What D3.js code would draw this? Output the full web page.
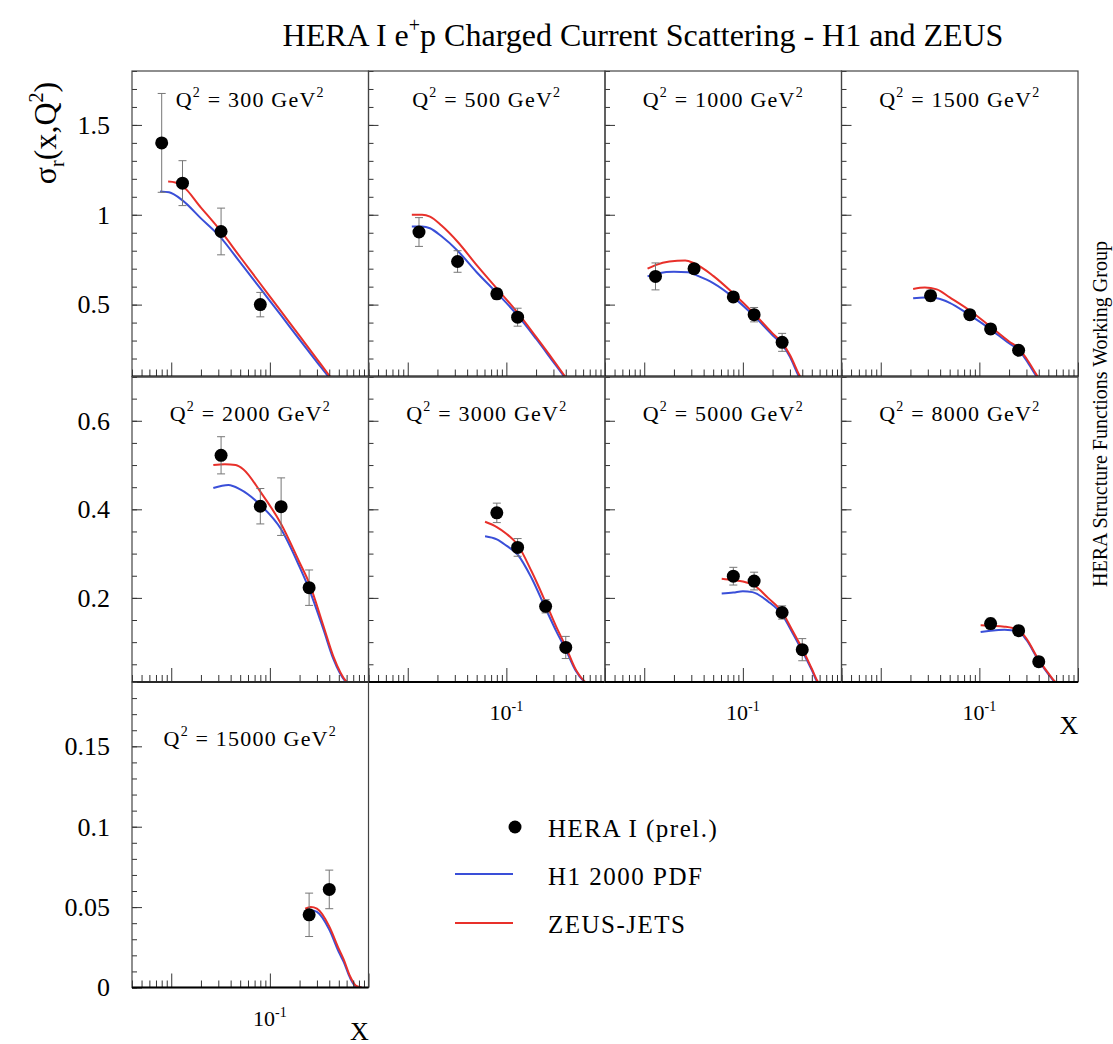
<!DOCTYPE html>
<html lang="en">
<head>
<meta charset="UTF-8">
<title>HERA I e+p Charged Current Scattering</title>
<style>
  body { margin: 0; background: #fff; }
  svg { display: block; font-family: "Liberation Serif", "DejaVu Serif", serif; }
  .frame { fill: none; stroke: #444; stroke-width: 1.2; }
  .base { stroke: #000; stroke-width: 2; }
  .tick line { stroke: #333; stroke-width: 1; }
  .tick text { fill: #000; }
  .err { stroke: #777; stroke-width: 1; }
  .h1 { fill: none; stroke: #3a4fd8; stroke-width: 2; }
  .zeus { fill: none; stroke: #e8302a; stroke-width: 2; }
</style>
</head>
<body>
<div id="chart"></div>
<script src="https://d3js.org/d3.v7.min.js"></script>
<script>
// Q^2 bins, one panel each (GeV^2)
const q2Bins = [300, 500, 1000, 1500, 2000, 3000, 5000, 8000, 15000];

// HERA I (prel.) points: x, sigma_r, error
const heraX = [
  [0.008, 0.013, 0.032, 0.08],
  [0.013, 0.032, 0.08, 0.13],
  [0.013, 0.032, 0.08, 0.13, 0.25],
  [0.032, 0.08, 0.13, 0.25],
  [0.032, 0.08, 0.13, 0.25],
  [0.08, 0.13, 0.25, 0.4],
  [0.08, 0.13, 0.25, 0.4],
  [0.13, 0.25, 0.4],
  [0.25, 0.4]
];
const heraSigma = [
  [1.40, 1.176, 0.907, 0.50],
  [0.904, 0.74, 0.56, 0.43],
  [0.657, 0.70, 0.543, 0.444, 0.29],
  [0.55, 0.444, 0.365, 0.246],
  [0.522, 0.407, 0.406, 0.223],
  [0.392, 0.314, 0.181, 0.088],
  [0.249, 0.238, 0.167, 0.083],
  [0.142, 0.126, 0.056],
  [0.0452, 0.061]
];
const heraErr = [
  [0.275, 0.125, 0.13, 0.068],
  [0.08, 0.06, 0.03, 0.05],
  [0.075, 0.02, 0.02, 0.04, 0.05],
  [0.03, 0.02, 0.02, 0.02],
  [0.042, 0.04, 0.065, 0.04],
  [0.022, 0.02, 0.015, 0.025],
  [0.02, 0.02, 0.015, 0.025],
  [0.012, 0.01, 0.01],
  [0.0135, 0.012]
];

// H1 2000 PDF curves, [x, sigma_r]
const h1Curves = [
  [[0.0077,1.13],[0.0095,1.125],[0.013,1.08],[0.02,0.98],[0.031,0.88],[0.05,0.735],[0.08,0.59],[0.13,0.44],[0.2,0.305],[0.3,0.18],[0.39,0.1],[0.5,0.02]],
  [[0.011,0.935],[0.014,0.935],[0.0168,0.925],[0.022,0.88],[0.032,0.80],[0.05,0.68],[0.08,0.565],[0.13,0.44],[0.2,0.31],[0.3,0.18],[0.385,0.1],[0.5,0.015]],
  [[0.0108,0.657],[0.014,0.675],[0.02,0.683],[0.028,0.68],[0.035,0.66],[0.05,0.62],[0.079,0.543],[0.128,0.44],[0.2,0.33],[0.248,0.28],[0.3,0.21],[0.37,0.1],[0.5,0.005]],
  [[0.0213,0.535],[0.028,0.54],[0.037,0.535],[0.05,0.51],[0.0785,0.444],[0.128,0.365],[0.2,0.285],[0.248,0.25],[0.3,0.19],[0.38,0.1],[0.5,0.01]],
  [[0.0267,0.448],[0.038,0.455],[0.05,0.445],[0.08,0.41],[0.13,0.355],[0.2,0.27],[0.25,0.22],[0.35,0.128],[0.44,0.062],[0.59,0.01],[0.7,0]],
  [[0.0608,0.339],[0.08,0.332],[0.1,0.318],[0.13,0.298],[0.18,0.245],[0.25,0.176],[0.32,0.125],[0.4,0.083],[0.5,0.037],[0.62,0.01],[0.75,0]],
  [[0.061,0.21],[0.08,0.212],[0.1,0.215],[0.125,0.213],[0.18,0.192],[0.25,0.162],[0.32,0.12],[0.4,0.08],[0.5,0.037],[0.57,0.01],[0.7,0]],
  [[0.103,0.123],[0.13,0.126],[0.18,0.128],[0.25,0.124],[0.3,0.105],[0.4,0.058],[0.5,0.028],[0.58,0.01],[0.7,0]],
  [[0.225,0.047],[0.26,0.048],[0.3,0.047],[0.4,0.036],[0.5,0.022],[0.56,0.016],[0.65,0.006],[0.75,0.0005],[0.85,0]]
];

// ZEUS-JETS curves, [x, sigma_r]
const zeusCurves = [
  [[0.0093,1.185],[0.011,1.18],[0.013,1.16],[0.02,1.04],[0.031,0.917],[0.05,0.765],[0.08,0.616],[0.13,0.462],[0.2,0.326],[0.3,0.197],[0.4,0.105],[0.55,0.0]],
  [[0.011,1.0],[0.014,1.0],[0.0168,0.99],[0.022,0.94],[0.032,0.85],[0.05,0.72],[0.08,0.59],[0.13,0.455],[0.2,0.32],[0.3,0.19],[0.394,0.1],[0.5,0.02]],
  [[0.0108,0.70],[0.013,0.72],[0.018,0.74],[0.026,0.745],[0.032,0.73],[0.05,0.66],[0.079,0.565],[0.128,0.454],[0.2,0.34],[0.248,0.29],[0.3,0.22],[0.38,0.1],[0.5,0.01]],
  [[0.0213,0.587],[0.028,0.595],[0.037,0.585],[0.05,0.54],[0.0785,0.47],[0.128,0.38],[0.2,0.295],[0.248,0.26],[0.3,0.2],[0.39,0.1],[0.5,0.01]],
  [[0.0267,0.50],[0.035,0.502],[0.045,0.50],[0.054,0.49],[0.08,0.44],[0.13,0.367],[0.2,0.28],[0.25,0.234],[0.35,0.136],[0.44,0.068],[0.6,0.01],[0.7,0]],
  [[0.0608,0.372],[0.08,0.36],[0.1,0.345],[0.13,0.32],[0.18,0.26],[0.25,0.19],[0.32,0.135],[0.4,0.09],[0.5,0.04],[0.63,0.01],[0.75,0]],
  [[0.061,0.243],[0.08,0.24],[0.1,0.237],[0.13,0.228],[0.18,0.2],[0.25,0.168],[0.32,0.125],[0.4,0.085],[0.5,0.04],[0.58,0.01],[0.7,0]],
  [[0.103,0.138],[0.13,0.137],[0.18,0.135],[0.25,0.128],[0.3,0.108],[0.4,0.06],[0.5,0.03],[0.59,0.01],[0.7,0]],
  [[0.228,0.049],[0.26,0.05],[0.3,0.049],[0.4,0.038],[0.5,0.024],[0.56,0.0175],[0.65,0.007],[0.75,0.001],[0.85,0]]
];

// axis settings per row
const xDomain = [0.004, 1];
const rowDomains = [[0.1, 1.8], [0.01, 0.7], [0, 0.19]];
const rowMajor = [[0.5, 1, 1.5], [0.2, 0.4, 0.6], [0, 0.05, 0.1, 0.15]];
const rowMinorStep = [0.1, 0.05, 0.01];
const rowLabelAt = [1.6, 0.6, 0.15];
const legendItems = ["HERA I (prel.)", "H1 2000 PDF", "ZEUS-JETS"];

const width = 1113, height = 1044;
const padLeft = 132, padTop = 71, pw = 236.5, ph = 305.5;

const svg = d3.select("#chart").append("svg")
  .attr("width", width).attr("height", height);

svg.append("defs").append("clipPath").attr("id", "clip")
  .append("rect").attr("width", pw).attr("height", ph);

const x = d3.scaleLog().domain(xDomain).range([0, pw]);
const xTicks = x.ticks();
const decade = v => Math.abs(Math.log10(v) - Math.round(Math.log10(v))) < 1e-9;

q2Bins.forEach((q2, i) => {
  const row = Math.floor(i / 4), col = i % 4;
  const y = d3.scaleLinear().domain(rowDomains[row]).range([ph, 0]);
  const g = svg.append("g")
    .attr("transform", `translate(${padLeft + col * pw},${padTop + row * ph})`);

  const line = d3.line()
    .x(d => x(d[0])).y(d => y(d[1]))
    .curve(d3.curveMonotoneX);

  const plot = g.append("g").attr("clip-path", "url(#clip)");
  plot.append("path").attr("class", "h1").attr("d", line(h1Curves[i]));
  plot.append("path").attr("class", "zeus").attr("d", line(zeusCurves[i]));

  const pts = heraX[i].map((xv, k) => ({ x: xv, s: heraSigma[i][k], e: heraErr[i][k] }));
  const eb = plot.selectAll(".eb").data(pts).join("g").attr("class", "eb");
  eb.append("line").attr("class", "err")
    .attr("x1", d => x(d.x)).attr("x2", d => x(d.x))
    .attr("y1", d => y(d.s + d.e)).attr("y2", d => y(d.s - d.e));
  [1, -1].forEach(sg => {
    eb.append("line").attr("class", "err")
      .attr("x1", d => x(d.x) - 4).attr("x2", d => x(d.x) + 4)
      .attr("y1", d => y(d.s + sg * d.e)).attr("y2", d => y(d.s + sg * d.e));
  });
  plot.selectAll(".pt").data(pts).join("circle").attr("class", "pt")
    .attr("cx", d => x(d.x)).attr("cy", d => y(d.s)).attr("r", 6.5)
    .attr("fill", "#000");

  // y axis: minor + major ticks pointing inward
  const [lo, hi] = rowDomains[row];
  const st = rowMinorStep[row];
  const minor = d3.range(Math.ceil(lo / st - 1e-6), Math.floor(hi / st + 1e-6) + 1).map(k => +(k * st).toFixed(4));
  g.append("g").call(d3.axisLeft(y).tickValues(minor).tickSize(-5).tickFormat(""))
    .call(a => a.select(".domain").remove());
  g.append("g")
    .call(d3.axisLeft(y).tickValues(rowMajor[row]).tickSize(-10).tickPadding(22)
      .tickFormat(col === 0 ? d3.format("") : ""))
    .call(a => a.select(".domain").remove())
    .call(a => a.selectAll("text").attr("font-size", 26).attr("font-family", "Liberation Serif"));

  // x axis: log ticks, decades longer
  const xa = g.append("g").attr("transform", `translate(0,${ph})`);
  xa.call(d3.axisBottom(x).tickValues(xTicks.filter(v => !decade(v))).tickSize(-7).tickFormat(""))
    .call(a => a.select(".domain").remove());
  xa.append("g").call(d3.axisBottom(x).tickValues(xTicks.filter(decade)).tickSize(-14).tickFormat(""))
    .call(a => a.select(".domain").remove());

  g.append("rect").attr("class", "frame").attr("width", pw).attr("height", ph);
  g.append("line").attr("class", "base").attr("x1", 0).attr("x2", pw).attr("y1", ph).attr("y2", ph);

  // bottom panels carry the x labels; the axis name only at the row ends
  if (i >= 5) {
    const lab = g.append("text").attr("x", x(0.1)).attr("y", ph + 38)
      .attr("text-anchor", "middle").attr("font-size", 22);
    lab.append("tspan").text("10");
    lab.append("tspan").attr("font-size", 14).attr("dy", -9).text("-1");
  }
  if (i === 7 || i === 8) {
    g.append("text").attr("x", pw - 9).attr("y", ph + 52).attr("text-anchor", "middle")
      .attr("font-size", 26).text("X");
  }

  // Q^2 label
  const ql = g.append("text").attr("x", pw / 2).attr("y", y(rowLabelAt[row]))
    .attr("text-anchor", "middle").attr("font-size", 22).attr("letter-spacing", 1.2);
  ql.append("tspan").text("Q");
  ql.append("tspan").attr("font-size", 14).attr("dy", -10).text("2");
  ql.append("tspan").attr("dy", 10).text(` = ${q2} GeV`);
  ql.append("tspan").attr("font-size", 14).attr("dy", -10).text("2");
});

// title
const title = svg.append("text").attr("x", 643).attr("y", 46)
  .attr("text-anchor", "middle").attr("font-size", 32);
title.append("tspan").text("HERA I e");
title.append("tspan").attr("font-size", 20).attr("dy", -14).text("+");
title.append("tspan").attr("dy", 14).text("p Charged Current Scattering - H1 and ZEUS");

// y title
const yt = svg.append("text").attr("transform", "translate(56,133) rotate(-90)")
  .attr("text-anchor", "middle").attr("font-size", 32);
yt.append("tspan").text("σ");
yt.append("tspan").attr("font-size", 20).attr("dy", 8).text("r");
yt.append("tspan").attr("dy", -8).text("(x,Q");
yt.append("tspan").attr("font-size", 20).attr("dy", -13).text("2");
yt.append("tspan").attr("dy", 13).text(")");

// side note
svg.append("text").attr("transform", "translate(1107,414) rotate(-90)")
  .attr("text-anchor", "middle").attr("font-size", 20)
  .text("HERA Structure Functions Working Group");

// legend
const lg = svg.append("g");
lg.append("circle").attr("cx", 515).attr("cy", 827).attr("r", 6.5).attr("fill", "#000");
lg.append("line").attr("class", "h1").attr("x1", 455).attr("x2", 513).attr("y1", 874).attr("y2", 874);
lg.append("line").attr("class", "zeus").attr("x1", 455).attr("x2", 513).attr("y1", 923).attr("y2", 923);
lg.selectAll(".lt").data(legendItems).join("text").attr("class", "lt")
  .attr("x", 548).attr("y", (d, k) => 837 + k * 48)
  .attr("font-size", 25).attr("letter-spacing", 1.5).text(d => d);
</script>
</body>
</html>
